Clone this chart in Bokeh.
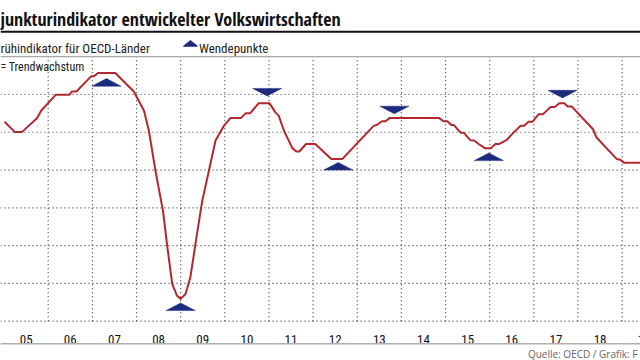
from bokeh.plotting import figure
from bokeh.models import Span
from bokeh.embed import file_html
from bokeh.resources import INLINE
from bokeh.core.properties import value

# ---------------- data ----------------
cli_year = [2005.01, 2005.24, 2005.41, 2005.75, 2005.84, 2006.17, 2006.48, 2006.54, 2006.64, 2006.97,
            2007.03, 2007.13, 2007.52, 2007.94, 2008.17, 2008.28, 2008.43, 2008.60, 2008.70, 2008.81,
            2008.92, 2009.00, 2009.11, 2009.22, 2009.37, 2009.49, 2009.64, 2009.79, 2009.98, 2010.13,
            2010.37, 2010.47, 2010.57, 2010.77, 2011.01, 2011.15, 2011.22, 2011.34, 2011.53, 2011.62,
            2011.69, 2011.84, 2012.05, 2012.41, 2012.66, 2013.37, 2013.45, 2013.56, 2013.64, 2013.74,
            2014.85, 2014.95, 2015.04, 2015.13, 2015.19, 2015.34, 2015.41, 2015.56, 2015.65, 2015.75,
            2015.89, 2016.03, 2016.13, 2016.22, 2016.38, 2016.54, 2016.70, 2016.78, 2016.88, 2016.97,
            2017.11, 2017.21, 2017.38, 2017.47, 2017.58, 2017.69, 2017.77, 2017.86, 2018.34, 2018.42,
            2018.88, 2018.96, 2019.05, 2019.41]
cli_value = [101.28, 101.01, 101.01, 101.38, 101.57, 101.99, 101.99, 102.08, 102.08, 102.48,
             102.48, 102.57, 102.57, 102.08, 101.57, 101.04, 99.98, 98.92, 97.95, 96.98,
             96.67, 96.59, 96.72, 97.16, 98.31, 99.19, 99.98, 100.78, 101.17, 101.38,
             101.38, 101.50, 101.50, 101.77, 101.77, 101.52, 101.44, 101.04, 100.58, 100.49,
             100.49, 100.69, 100.69, 100.29, 100.29, 101.17, 101.20, 101.29, 101.29, 101.38,
             101.38, 101.29, 101.29, 101.19, 101.19, 100.99, 100.99, 100.79, 100.78, 100.69,
             100.58, 100.58, 100.69, 100.69, 100.79, 100.99, 101.17, 101.17, 101.28, 101.28,
             101.48, 101.48, 101.67, 101.67, 101.77, 101.77, 101.68, 101.68, 101.08, 100.86,
             100.29, 100.27, 100.19, 100.19]

tp_year = [2007.32, 2009.00, 2010.96, 2012.57, 2013.84, 2015.98, 2017.65]
tp_value = [102.32, 96.38, 102.06, 100.10, 101.59, 100.35, 102.01]
tp_dir = ["up", "up", "down", "up", "down", "up", "down"]

year_labels = ["05", "06", "07", "08", "09", "10", "11", "12", "13", "14", "15", "16", "17", "18", "19"]
label_years = list(range(2005, 2020))
year_starts = list(range(2006, 2020))
grid_values = [96, 97, 98, 99, 100, 101, 102]
plot_top, plot_bottom = 103, 96

title_text = "junkturindikator entwickelter Volkswirtschaften"
legend_line_text = "rühindikator für OECD-Länder"
legend_tp_text = "Wendepunkte"
yaxis_note = "= Trendwachstum"
source_text = "Quelle: OECD / Grafik: F"

# ---------------- styles / layout ----------------
FONT_B = "Open Sans Condensed"
FONT = "Roboto Condensed"
RED = "#b3282e"
NAVY = "#1c2b7e"
GRID = "#3c3c3c"
W, H = 640, 360
XPPY = 44.15                      # pixels per year
PPU = 37.78                       # pixels per index point
X0 = 2006 - 47.7 / XPPY           # year at left canvas edge
X1 = X0 + W / XPPY
Y_TOP = plot_top + 56.2 / PPU     # value at top canvas edge
Y_BOT = Y_TOP - H / PPU


def px(xpage):   # canvas pixel -> data x (placement helper for annotations)
    return X0 + xpage / XPPY


def py(ypage):   # canvas pixel -> data y (placement helper for annotations)
    return Y_TOP - ypage / PPU


p = figure(width=W, height=H, x_range=(X0, X1), y_range=(Y_BOT, Y_TOP),
           output_backend="svg", toolbar_location=None)
p.min_border = 0
p.axis.visible = False
p.grid.visible = False
p.outline_line_color = None
p.background_fill_color = "white"
p.border_fill_color = "white"

# dotted grid: index levels across the width, year separators inside the plot area
for gv in grid_values:
    p.add_layout(Span(location=gv, dimension="width", line_color=GRID, line_dash="1 3", line_width=1.2))
p.segment(x0=year_starts, y0=[plot_bottom] * len(year_starts), x1=year_starts,
          y1=[plot_top] * len(year_starts), line_color=GRID, line_dash="1 3", line_width=1.2)

# header
p.text(x=[px(0)], y=[py(18.5)], text=[title_text], text_font=value(FONT_B), text_font_style="bold",
       text_font_size="18px", text_color="#111111", text_baseline="alphabetic")
p.add_layout(Span(location=py(31.2), dimension="width", line_color="#111111", line_width=2))
p.text(x=[px(0)], y=[py(48.3)], text=[legend_line_text], text_font=value(FONT),
       text_font_size="13px", text_color="#222222", text_baseline="alphabetic")
p.patch(x=[px(183), px(197), px(190)], y=[py(45.7), py(45.7), py(40)], fill_color=NAVY, line_color=NAVY)
p.text(x=[px(198.5)], y=[py(48.3)], text=[legend_tp_text], text_font=value(FONT),
       text_font_size="13px", text_color="#222222", text_baseline="alphabetic")
p.add_layout(Span(location=plot_top, dimension="width", line_color="#a8a8a8", line_width=1.3))
p.text(x=[px(0)], y=[py(66.7)], text=[yaxis_note], text_font=value(FONT),
       text_font_size="12px", text_color="#222222", text_baseline="alphabetic")

# data line
p.line(cli_year, cli_value, line_color=RED, line_width=2, line_join="round")

# turning points
HW = 0.33   # half width of marker in years
HH = 0.10   # half height in index points
xs, ys = [], []
for x, v, d in zip(tp_year, tp_value, tp_dir):
    xs.append([x - HW, x + HW, x])
    ys.append([v - HH, v - HH, v + HH] if d == "up" else [v + HH, v + HH, v - HH])
p.patches(xs, ys, fill_color=NAVY, line_color=NAVY, line_width=0.5)

# x tick labels (centred in each year)
p.text(x=[y + 0.5 for y in label_years], y=[py(339.3)] * len(label_years), text=year_labels,
       text_font=value(FONT), text_font_size="13px", text_color="#111111",
       text_align="center", text_baseline="alphabetic")

# footer
p.add_layout(Span(location=py(343.3), dimension="width", line_color="#b0b0b0", line_width=1.4))
p.text(x=[px(637)], y=[py(353.5)], text=[source_text], text_font=value("Open Sans"), text_font_size="10px",
       text_color="#666666", text_align="right", text_baseline="alphabetic")

open("out.html", "w").write(file_html(p, INLINE))
